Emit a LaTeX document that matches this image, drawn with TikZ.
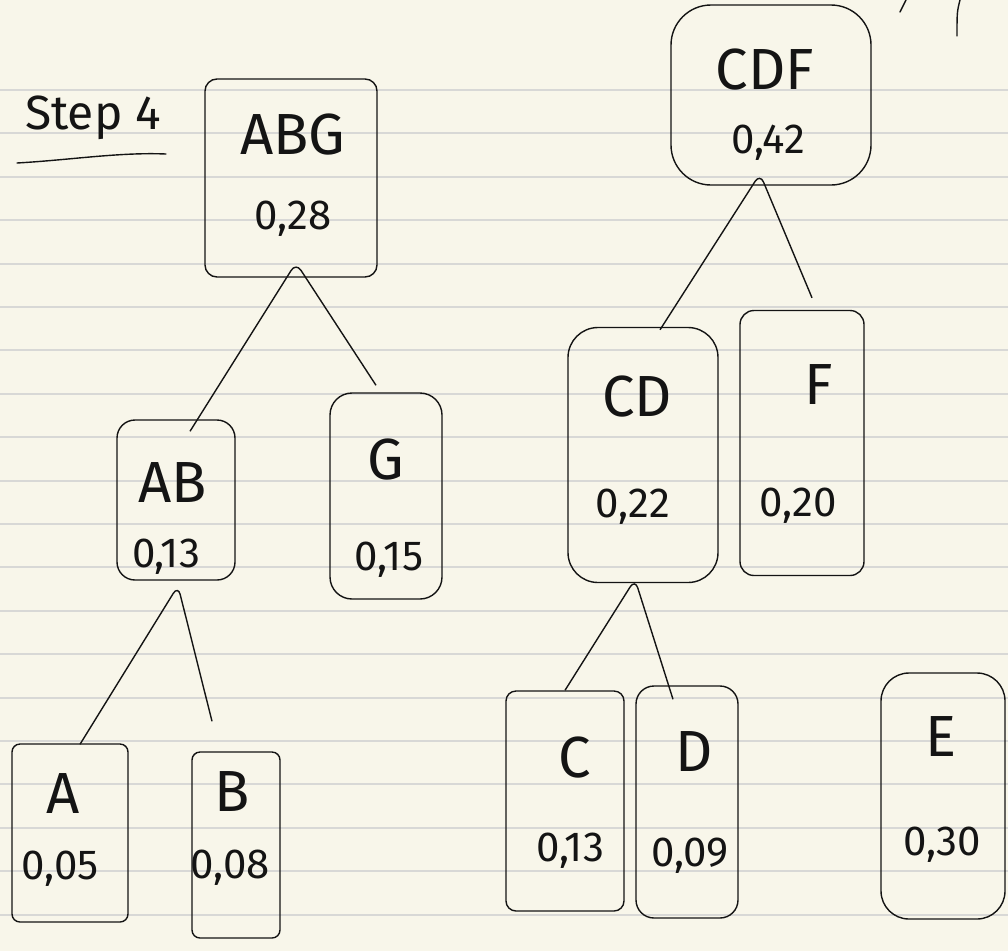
\documentclass[tikz,border=0pt]{standalone}
\usepackage{fontspec}
\newfontfamily\hand{Fira Sans}
\usetikzlibrary{calc}
\definecolor{paper}{RGB}{248,246,234}
\definecolor{rule}{RGB}{216,216,214}
\definecolor{ink}{RGB}{20,20,20}

\begin{document}
\begin{tikzpicture}[x=1pt,y=-1pt,
  card/.style={draw=ink, line width=1.4pt, inner sep=0pt},
  link/.style={draw=ink, line width=1.4pt, rounded corners=9pt},
  pen/.style={draw=ink, line width=1.4pt, line cap=round},
  symtext/.style={font=\hand\fontsize{58}{58}\selectfont, inner sep=0pt, text=ink},
  probtext/.style={font=\hand\fontsize{42}{42}\selectfont, inner sep=0pt, text=ink}]

% lined notebook paper
\fill[paper] (0,0) rectangle (1008,951);
\useasboundingbox (0,0) rectangle (1008,951);
\foreach \k in {0,...,19}
  \draw[rule, line width=2pt] (0,{90+43.4*\k}) -- (1008,{90+43.4*\k});

% heading
\node[font=\hand\fontsize{48}{48}\selectfont, inner sep=0pt, text=ink] (title) at (93,118) {Step 4};
\draw[pen] (17,163) .. controls (70,160) and (120,152) .. (166,154);

% stray strokes at the top edge
\draw[pen] (900,12) -- (906,0);
\draw[pen] (960,0) .. controls (957,12) .. (957,36);

% tree nodes: cards
\node[card, rounded corners=12pt, minimum width=172pt, minimum height=198pt] (abg) at (291,178) {};
\node[card, rounded corners=40pt, minimum width=200pt, minimum height=180pt] (cdf) at (771,95) {};
\node[card, rounded corners=18pt, minimum width=118pt, minimum height=160pt] (ab) at (176,500) {};
\node[card, rounded corners=22pt, minimum width=112pt, minimum height=206pt] (g) at (386,496) {};
\node[card, rounded corners=30pt, minimum width=150pt, minimum height=255pt] (cd) at (643,455) {};
\node[card, rounded corners=14pt, minimum width=124pt, minimum height=265pt] (f) at (802,443) {};
\node[card, rounded corners=8pt, minimum width=116pt, minimum height=178pt] (a) at (70,833) {};
\node[card, rounded corners=8pt, minimum width=88pt, minimum height=186pt] (b) at (236,845) {};
\node[card, rounded corners=10pt, minimum width=118pt, minimum height=220pt] (c) at (565,801) {};
\node[card, rounded corners=18pt, minimum width=102pt, minimum height=232pt] (d) at (687,802) {};
\node[card, rounded corners=28pt, minimum width=124pt, minimum height=246pt] (e) at (943,796) {};

% card texts: symbol set and probability
\node[symtext] (abg-n) at (293,135) {ABG};  \node[probtext] (abg-p) at (293,219) {0,28};
\node[symtext] (cdf-n) at (765,70)  {CDF};  \node[probtext] (cdf-p) at (768,143) {0,42};
\node[symtext] (ab-n)  at (173,483) {AB};   \node[probtext] (ab-p)  at (166,557) {0,13};
\node[symtext] (g-n)   at (386,460) {G};    \node[probtext] (g-p)   at (389,560) {0,15};
\node[symtext] (cd-n)  at (637,397) {CD};   \node[probtext] (cd-p)  at (633,507) {0,22};
\node[symtext] (f-n)   at (819,385) {F};    \node[probtext] (f-p)   at (798,506) {0,20};
\node[symtext] (a-n)   at (63,794)  {A};    \node[probtext] (a-p)   at (60,869)  {0,05};
\node[symtext] (b-n)   at (232,792) {B};    \node[probtext] (b-p)   at (230,868) {0,08};
\node[symtext] (c-n)   at (575,758) {C};    \node[probtext] (c-p)   at (570,851) {0,13};
\node[symtext] (d-n)   at (694,752) {D};    \node[probtext] (d-p)   at (690,856) {0,09};
\node[symtext] (e-n)   at (941,737) {E};    \node[probtext] (e-p)   at (942,845) {0,30};

% parent-child links
\draw[link] ([xshift=14pt,yshift=-12pt]ab.north) -- ([xshift=5pt,yshift=15pt]abg.south) -- ([xshift=-10pt,yshift=7pt]g.north);
\draw[link] ([xshift=17pt,yshift=-3pt]cd.north) -- ([xshift=-11pt,yshift=12pt]cdf.south) -- ([xshift=10pt,yshift=12pt]f.north);
\draw[link] (c.north) -- ([xshift=-8pt,yshift=4pt]cd.south) -- ([xshift=-14pt,yshift=-14pt]d.north);
\draw[link] ([xshift=10pt,yshift=-1pt]a.north) -- ([xshift=2pt,yshift=-5pt]ab.south) -- ([xshift=-24pt,yshift=30pt]b.north);
\end{tikzpicture}
\end{document}
